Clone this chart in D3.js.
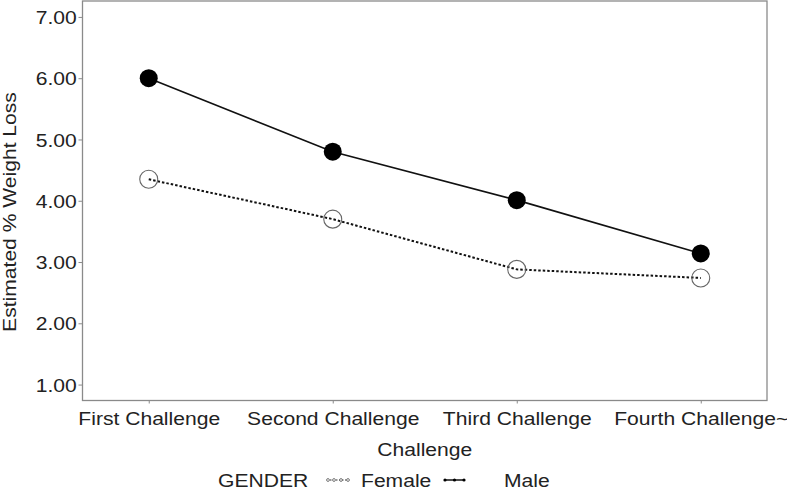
<!DOCTYPE html>
<html>
<head>
<meta charset="utf-8">
<script src="https://cdnjs.cloudflare.com/ajax/libs/d3/7.8.5/d3.min.js"></script>
<style>
	body { margin: 0; background: #fff; }
	svg { display: block; font-family: "Liberation Sans", Arial, sans-serif; }
	text { fill: #222; }
</style>
</head>
<body>
<svg width="787" height="490"></svg>
<script>
	var challenges = ["First Challenge", "Second Challenge", "Third Challenge", "Fourth Challenge~"];
	var male = [6.00, 4.80, 4.01, 3.14];
	var female = [4.35, 3.70, 2.88, 2.74];
	var yTicks = [1, 2, 3, 4, 5, 6, 7];

	var svg = d3.select("svg");
	// note: "top" is taken by window.top, so plot edges get a prefix
	var plotL = 82.5, plotR = 767, plotT = 1, plotB = 400.5;
	var wide = "scale(1.14,1)";

	var x = d3.scalePoint()
		.domain(challenges)
		.range([plotL, plotR])
		.padding(0.36);

	var y = d3.scaleLinear()
		.domain([0.74, 7.26])
		.range([plotB, plotT]);

	// frame
	svg.append("rect")
		.attr("x", plotL).attr("y", plotT)
		.attr("width", plotR - plotL).attr("height", plotB - plotT)
		.attr("fill", "none")
		.attr("stroke", "#8a8a8a")
		.attr("stroke-width", 1.3);

	var xAxis = svg.append("g")
		.attr("transform", "translate(0," + plotB + ")")
		.call(d3.axisBottom(x).tickSize(3).tickPadding(10));
	xAxis.select(".domain").remove();
	xAxis.selectAll("line").attr("stroke", "#8a8a8a");
	xAxis.selectAll("text")
		.attr("y", 25).attr("dy", 0)
		.attr("font-size", 18.5)
		.attr("font-family", null)
		.attr("fill", "#222")
		.attr("transform", wide);

	var yAxis = svg.append("g")
		.attr("transform", "translate(" + plotL + ",0)")
		.call(d3.axisLeft(y).tickValues(yTicks).tickFormat(d3.format(".2f")).tickSize(4).tickPadding(4));
	yAxis.select(".domain").remove();
	yAxis.selectAll("line").attr("stroke", "#8a8a8a");
	yAxis.selectAll("text")
		.attr("x", -5)
		.attr("dy", "0.36em")
		.attr("font-size", 18.5)
		.attr("font-family", null)
		.attr("fill", "#222")
		.attr("transform", wide);

	// axis titles
	svg.append("g")
		.attr("transform", "translate(" + ((plotL + plotR) / 2) + ",456) " + wide)
		.append("text")
		.attr("text-anchor", "middle")
		.attr("font-size", 18.5)
		.text("Challenge");

	svg.append("g")
		.attr("transform", "translate(16,212) rotate(-90) " + wide)
		.append("text")
		.attr("text-anchor", "middle")
		.attr("font-size", 18.5)
		.text("Estimated % Weight Loss");

	var line = d3.line()
		.x(function(d, i){ return x(challenges[i]); })
		.y(function(d){ return y(d); });

	// female: dotted line, open circles
	svg.append("path")
		.datum(female)
		.attr("d", line)
		.attr("fill", "none")
		.attr("stroke", "#111")
		.attr("stroke-width", 2)
		.attr("stroke-dasharray", "2.5,2");

	svg.selectAll("circle.female")
		.data(female)
		.enter().append("circle")
		.attr("class", "female")
		.attr("cx", function(d, i){ return x(challenges[i]); })
		.attr("cy", function(d){ return y(d); })
		.attr("r", 9)
		.attr("fill", "none")
		.attr("stroke", "#666")
		.attr("stroke-width", 1.1);

	// male: solid line, filled circles
	svg.append("path")
		.datum(male)
		.attr("d", line)
		.attr("fill", "none")
		.attr("stroke", "#111")
		.attr("stroke-width", 1.6);

	svg.selectAll("circle.male")
		.data(male)
		.enter().append("circle")
		.attr("class", "male")
		.attr("cx", function(d, i){ return x(challenges[i]); })
		.attr("cy", function(d){ return y(d); })
		.attr("r", 9)
		.attr("fill", "#000");

	// legend
	var legend = svg.append("g");
	legend.append("g").attr("transform", "translate(218,487) " + wide)
		.append("text").attr("font-size", 18.5).text("GENDER");

	legend.append("line")
		.attr("x1", 327).attr("x2", 349).attr("y1", 480).attr("y2", 480)
		.attr("stroke", "#333").attr("stroke-width", 1.2).attr("stroke-dasharray", "1.5,1.5");
	legend.selectAll("circle.lf")
		.data([328, 334, 341, 348])
		.enter().append("circle")
		.attr("class", "lf")
		.attr("cx", function(d){ return d; }).attr("cy", 480).attr("r", 1.4)
		.attr("fill", "#fff").attr("stroke", "#555").attr("stroke-width", 0.8);
	legend.append("g").attr("transform", "translate(361,487) " + wide)
		.append("text").attr("font-size", 18.5).text("Female");

	legend.append("line")
		.attr("x1", 444).attr("x2", 465).attr("y1", 480).attr("y2", 480)
		.attr("stroke", "#111").attr("stroke-width", 1.5);
	legend.selectAll("circle.lm")
		.data([445, 454.5, 464])
		.enter().append("circle")
		.attr("class", "lm")
		.attr("cx", function(d){ return d; }).attr("cy", 480).attr("r", 1.6)
		.attr("fill", "#000");
	legend.append("g").attr("transform", "translate(504,487) " + wide)
		.append("text").attr("font-size", 18.5).text("Male");
</script>
</body>
</html>
